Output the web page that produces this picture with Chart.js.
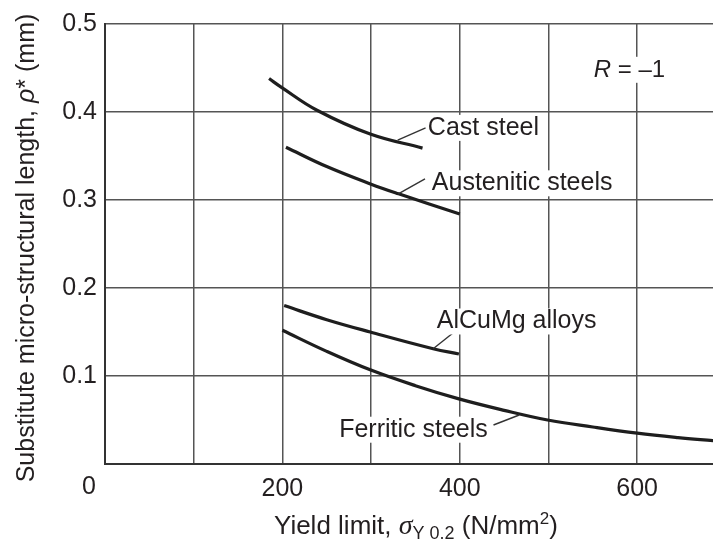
<!DOCTYPE html>
<html><head><meta charset="utf-8">
<script src="https://cdn.jsdelivr.net/npm/chart.js@4/dist/chart.umd.min.js"></script>
<style>html,body{margin:0;padding:0;background:#fff}#wrap{width:713px;height:542px}</style>
</head><body><div id="wrap"><canvas id="c" width="713" height="542"></canvas></div>
<script>
// ---- data ----
const xTickValues = [0, 100, 200, 300, 400, 500, 600];
const xTickLabels = ['0', '', '200', '', '400', '', '600'];
const yTickValues = [0, 0.1, 0.2, 0.3, 0.4, 0.5];
const yTickLabels = ['', '0.1', '0.2', '0.3', '0.4', '0.5'];

const castSteelX = [185, 199, 239, 299, 358];
const castSteelY = [0.438, 0.428, 0.402, 0.375, 0.359];

const austeniticX = [204, 250, 300, 331, 400];
const austeniticY = [0.360, 0.338, 0.318, 0.307, 0.284];

const alcumgX = [202, 250, 299, 370, 399];
const alcumgY = [0.180, 0.164, 0.150, 0.131, 0.125];

const ferriticX = [200, 250, 299, 350, 399, 450, 499, 550, 600, 646, 686];
const ferriticY = [0.152, 0.128, 0.107, 0.089, 0.074, 0.061, 0.050, 0.042, 0.035, 0.030, 0.0265];

const seriesNames = ['Cast steel', 'Austenitic steels', 'AlCuMg alloys', 'Ferritic steels'];

// label anchors (data units) and leader lines (data units)
const labelAnchors = [
  {text: 'Cast steel', x: 364, y: 0.374, lx1: 330, ly1: 0.368, lx2: 361.5, ly2: 0.382},
  {text: 'Austenitic steels', x: 368.5, y: 0.311, lx1: 330.7, ly1: 0.307, lx2: 360.8, ly2: 0.324},
  {text: 'AlCuMg alloys', x: 374, y: 0.154, lx1: 370, ly1: 0.131, lx2: 392, ly2: 0.1485},
  {text: 'Ferritic steels', x: 264, y: 0.031, lx1: 438, ly1: 0.0443, lx2: 467, ly2: 0.0557}
];
const rLabel = {x: 551, y: 0.440};

function pts(xs, ys){ return xs.map((x,i)=>({x:x, y:ys[i]})); }

const INK = '#231f20';
const SANS = '"Liberation Sans", Arial, sans-serif';
const SERIF = '"Liberation Serif", "Times New Roman", serif';

function drawParts(ctx, parts, x, y, align){
  let total = 0;
  parts.forEach(p => { ctx.font = p.font; p.w = ctx.measureText(p.t).width; total += p.w; });
  let cx = align === 'center' ? x - total/2 : x;
  ctx.textAlign = 'left';
  ctx.textBaseline = 'alphabetic';
  parts.forEach(p => { ctx.font = p.font; ctx.fillText(p.t, cx, y + (p.dy||0)); cx += p.w; });
  return total;
}

const annot = {
  id: 'annot',
  afterDatasetsDraw(chart){
    const ctx = chart.ctx, xs = chart.scales.x, ys = chart.scales.y;
    ctx.save();
    // leader lines
    ctx.strokeStyle = '#333'; ctx.lineWidth = 1.4;
    labelAnchors.forEach(a => {
      ctx.beginPath();
      ctx.moveTo(xs.getPixelForValue(a.lx1), ys.getPixelForValue(a.ly1));
      ctx.lineTo(xs.getPixelForValue(a.lx2), ys.getPixelForValue(a.ly2));
      ctx.stroke();
    });
    // labels with white halo box
    ctx.font = '25px ' + SANS;
    labelAnchors.forEach(a => {
      const px = xs.getPixelForValue(a.x), py = ys.getPixelForValue(a.y);
      const w = ctx.measureText(a.text).width;
      ctx.fillStyle = '#fff';
      ctx.fillRect(px - 2, py - 20, w + 4, 26);
      ctx.fillStyle = INK;
      ctx.textAlign = 'left'; ctx.textBaseline = 'alphabetic';
      ctx.fillText(a.text, px, py);
    });
    // R = -1
    const rx = xs.getPixelForValue(rLabel.x), ry = ys.getPixelForValue(rLabel.y);
    ctx.fillStyle = '#fff';
    ctx.fillRect(rx - 3, ry - 20, 78, 26);
    ctx.fillStyle = INK;
    drawParts(ctx, [
      {t: 'R', font: 'italic 24px ' + SANS},
      {t: ' = \u20131', font: '24px ' + SANS}
    ], rx, ry, 'left');
    ctx.restore();
  },
  afterDraw(chart){
    const ctx = chart.ctx, xs = chart.scales.x;
    ctx.save();
    ctx.fillStyle = INK;
    // x tick "0" sits left of the corner
    ctx.font = '25px ' + SANS;
    ctx.textAlign = 'center'; ctx.textBaseline = 'middle';
    ctx.fillText('0', xs.getPixelForValue(0) - 16, 487);
    // x title
    drawParts(ctx, [
      {t: 'Yield limit, ', font: '26px ' + SANS},
      {t: '\u03c3', font: 'italic 28px ' + SERIF},
      {t: 'Y 0.2', font: '18px ' + SANS, dy: 5},
      {t: ' (N/mm', font: '26px ' + SANS},
      {t: '2', font: '17px ' + SANS, dy: -10},
      {t: ')', font: '26px ' + SANS}
    ], 274, 534, 'left');
    // y title (rotated)
    ctx.translate(34, 248);
    ctx.rotate(-Math.PI/2);
    drawParts(ctx, [
      {t: 'Substitute micro-structural length, ', font: '25px ' + SANS},
      {t: '\u03c1', font: 'italic 25px ' + SANS},
      {t: '* (mm)', font: '25px ' + SANS}
    ], 0, 0, 'center');
    ctx.restore();
  }
};

const lineStyle = {borderColor: '#1e1e1e', borderWidth: 3.2, pointRadius: 0, fill: false, tension: 0.4, borderCapStyle: 'butt'};

new Chart(document.getElementById('c'), {
  type: 'line',
  data: {
    datasets: [
      Object.assign({label: seriesNames[0], data: pts(castSteelX, castSteelY)}, lineStyle),
      Object.assign({label: seriesNames[1], data: pts(austeniticX, austeniticY)}, lineStyle),
      Object.assign({label: seriesNames[2], data: pts(alcumgX, alcumgY)}, lineStyle),
      Object.assign({label: seriesNames[3], data: pts(ferriticX, ferriticY)}, lineStyle)
    ]
  },
  options: {
    responsive: false,
    animation: false,
    devicePixelRatio: 1,
    layout: {padding: {top: 24, right: 0, left: 0, bottom: 0}},
    plugins: {legend: {display: false}, tooltip: {enabled: false}, title: {display: false}},
    scales: {
      x: {
        type: 'linear', min: 0, max: 685.5,
        afterBuildTicks: s => { s.ticks = xTickValues.map(v => ({value: v})); },
        afterFit: s => { s.height = 78; },
        grid: {color: '#555', lineWidth: 1.5, drawTicks: false},
        border: {display: true, color: '#333', width: 2},
        ticks: {
          padding: 10, maxRotation: 0, autoSkip: false,
          color: INK, font: {family: SANS, size: 25},
          callback: v => { const i = xTickValues.indexOf(v); return (i > 0) ? xTickLabels[i] : ''; }
        }
      },
      y: {
        type: 'linear', min: 0, max: 0.5,
        afterBuildTicks: s => { s.ticks = yTickValues.map(v => ({value: v})); },
        afterFit: s => { s.width = 105; },
        grid: {color: '#555', lineWidth: 1.5, drawTicks: false},
        border: {display: true, color: '#333', width: 2},
        ticks: {
          padding: 8, color: INK, font: {family: SANS, size: 25},
          callback: v => { const i = yTickValues.findIndex(t => Math.abs(t - v) < 1e-9); return i >= 0 ? yTickLabels[i] : ''; }
        }
      }
    }
  },
  plugins: [annot]
});
</script></body></html>
